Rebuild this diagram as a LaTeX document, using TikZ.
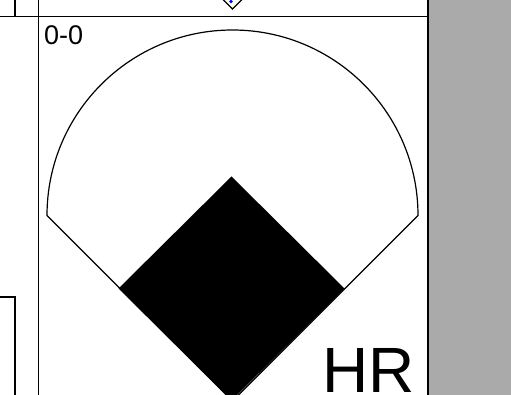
\documentclass[tikz,border=0pt]{standalone}
\usepackage{fontspec}
\setmainfont{Liberation Sans}
\usepackage{xcolor}
\usetikzlibrary{positioning,calc}
\definecolor{grisfond}{RGB}{170,170,170}

\begin{document}
\begin{tikzpicture}[x=1pt, y=-1pt,
 grille/.style={draw=black, line width=1.3pt},
 terrain/.style={draw=black, line width=1.2pt},
 lbl/.style={inner sep=0pt}]
\useasboundingbox (0,0) rectangle (511,395);
\clip (0,0) rectangle (511,395);
% fond gris
\fill[grisfond] (429,0) rectangle (511,395);
% grille des cases
\coordinate (hg) at (0,16.5);
\coordinate (hd) at (428,16.5);
\draw[grille] (hg)--(hd);
\draw[grille] (15,0)--(15,16.5);
\draw[grille] (38.5,0)--(38.5,395);
\draw[grille] (428,0)--(428,395);
\draw[grille] (0,297)--(15,297)--(15,395);
% terrain de la case du dessus
\coordinate (hautmarbre) at (232.5,9);
\draw[terrain] (222,-1.5)--(hautmarbre)--(243,-1.5);
\fill[blue] (231,1.5) circle (1.8);
% terrain
\coordinate (marbre) at (232.5,401);
\coordinate (gauche) at (47,215.5);
\coordinate (droite) at (418,215.5);
\draw[terrain] (marbre)--(gauche) arc[start angle=180, end angle=360, radius=185.5]--cycle;
% losange
\coordinate (centre) at (231.5,288.5);
\fill[black] ($(centre)+(0,-112)$)--($(centre)+(113,0)$)--($(centre)+(0,112)$)--($(centre)+(-113,0)$)--cycle;
% etiquettes
\node[lbl, anchor=base west, font=\fontsize{27}{27}\selectfont] (score) at (44,45) {0-0};
\node[lbl, anchor=base west, font=\fontsize{64}{64}\selectfont] (coup) at (322,392) {HR};
\end{tikzpicture}
\end{document}
